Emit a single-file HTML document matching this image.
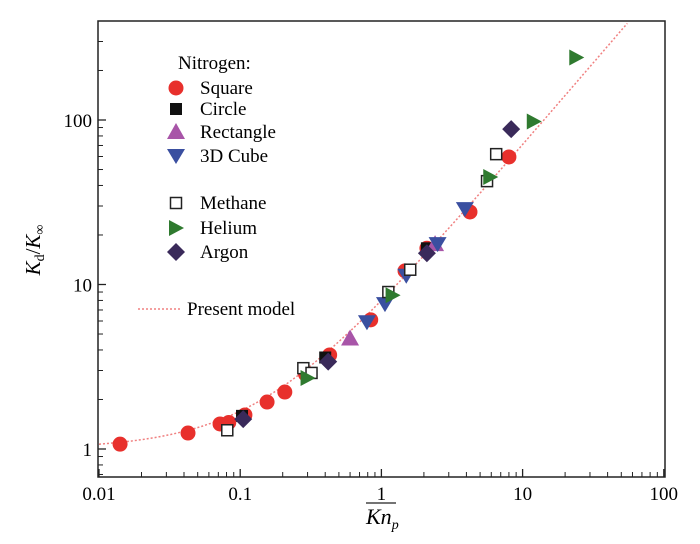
<!DOCTYPE html>
<html><head><meta charset="utf-8"><style>
body{margin:0;background:#fff}
svg{display:block;font-family:"Liberation Serif",serif}
</style></head><body>
<svg id="c" width="700" height="544">
<rect x="98" y="21" width="567" height="456" fill="none" stroke="#222" stroke-width="1.5"/>
<g id="ticks"></g><g id="curve"></g><g id="pts"></g>
<text transform="translate(40,250) rotate(-90)" text-anchor="middle" font-size="21" font-style="italic">K<tspan font-size="14" dy="4" font-style="normal">d</tspan><tspan dy="-4" font-style="normal">/</tspan>K<tspan font-size="14" dy="4" font-style="normal">∞</tspan></text>
<g>
<line x1="366" y1="503" x2="396" y2="503" stroke="#222" stroke-width="1.2"/>
<text x="366" y="524" font-size="22" font-style="italic">Kn<tspan font-size="14" dy="5">p</tspan></text>
</g>
<g id="legend" font-size="19"></g>
</svg>
<script>
const xTicks=[0.01,0.1,1,10,100];
const xTickLabels=["0.01","0.1","1","10","100"];
const yTicks=[1,10,100];
const yTickLabels=["1","10","100"];
const squareX=[0.0141,0.0427,0.072,0.083,0.108,0.155,0.207,0.29,0.43,0.84,1.47,2.1,4.24,8.0];
const squareY=[1.07,1.25,1.42,1.45,1.61,1.93,2.22,2.85,3.73,6.1,12.1,16.6,27.6,59.6];
const circleX=[0.103,0.40,2.1];
const circleY=[1.59,3.6,16.6];
const rectX=[0.60,2.4];
const rectY=[4.7,17.6];
const cubeX=[0.79,1.06,1.5,2.5,3.9];
const cubeY=[5.9,7.6,11.3,17.6,28.7];
const methaneX=[0.081,0.28,0.32,1.12,1.6,5.6,6.5];
const methaneY=[1.30,3.1,2.9,9.0,12.3,42.5,62];
const heliumX=[0.30,1.2,5.9,12,24];
const heliumY=[2.7,8.6,45,98,240];
const argonX=[0.105,0.42,2.1,8.3];
const argonY=[1.52,3.4,15.5,88];
const NS="http://www.w3.org/2000/svg";
const X=v=>99+(Math.log10(v)+2)*141.2;
const Y=v=>449-Math.log10(v)*164.5;
function mk(tag,attrs,parent){const e=document.createElementNS(NS,tag);for(const k in attrs)e.setAttribute(k,attrs[k]);parent.appendChild(e);return e;}
const tk=document.getElementById('ticks');
xTicks.forEach((t,i)=>{
  const l=mk('line',{x1:X(t),x2:X(t),y1:477,y2:469,stroke:'#222','stroke-width':1.3},tk);
  
  
  const tx=mk('text',{x:X(t),y:500,'text-anchor':'middle','font-size':19},tk);tx.textContent=xTickLabels[i];
  
  
  if(i<xTicks.length-1)for(let m=2;m<10;m++){const mx=X(t*m);mk('line',{x1:mx,x2:mx,y1:477,y2:472,stroke:'#222','stroke-width':1},tk);}
});
yTicks.forEach((t,i)=>{
  const l=mk('line',{x1:98,x2:106,y1:Y(t),y2:Y(t),stroke:'#222','stroke-width':1.3},tk);
  
  
  const tx=mk('text',{x:92,y:Y(t)+7,'text-anchor':'end','font-size':19},tk);tx.textContent=yTickLabels[i];
  
  
});
[0.7,0.8,0.9].concat([2,3,4,5,6,7,8,9],[20,30,40,50,60,70,80,90],[200,300]).forEach(v=>{
  const yy=Y(v);if(yy>21&&yy<477)mk('line',{x1:98,x2:103,y1:yy,y2:yy,stroke:'#222','stroke-width':1},tk);
});
// model curve
const cv=document.getElementById('curve');
let d='';for(let i=0;i<=200;i++){const kn=Math.pow(10,-2+i*3.76/200);const k=1+7*kn;const py=Y(k);if(py<21)break;d+=(i?'L':'M')+X(kn).toFixed(1)+','+py.toFixed(1);}
const pth=mk('path',{d:d,fill:'none',stroke:'#f08080','stroke-width':1.5,'stroke-dasharray':'2,2'},cv);


function marker(type,cx,cy,g){
  if(type==='circle')return mk('circle',{cx:cx,cy:cy,r:7.5,fill:'#e8302c'},g);
  if(type==='square')return mk('rect',{x:cx-6,y:cy-6,width:12,height:12,fill:'#111'},g);
  if(type==='tri')return mk('polygon',{points:`${cx},${cy-9} ${cx-9},${cy+7} ${cx+9},${cy+7}`,fill:'#a855a8'},g);
  if(type==='dtri')return mk('polygon',{points:`${cx},${cy+8} ${cx-9},${cy-7} ${cx+9},${cy-7}`,fill:'#3a4fa0'},g);
  if(type==='open')return mk('rect',{x:cx-5.5,y:cy-5.5,width:11,height:11,fill:'#fff',stroke:'#222','stroke-width':1.5},g);
  if(type==='rtri')return mk('polygon',{points:`${cx+8},${cy} ${cx-7},${cy-8} ${cx-7},${cy+8}`,fill:'#2f7a2f'},g);
  if(type==='dia')return mk('polygon',{points:`${cx},${cy-9} ${cx+9},${cy} ${cx},${cy+9} ${cx-9},${cy}`,fill:'#3a2a5a'},g);
}
const series=[['circle',squareX,squareY,'square'],['square',circleX,circleY,'circle'],['tri',rectX,rectY,'rectangle'],['dtri',cubeX,cubeY,'3d-cube'],['open',methaneX,methaneY,'methane'],['rtri',heliumX,heliumY,'helium'],['dia',argonX,argonY,'argon']];
const pg=document.getElementById('pts');
series.forEach(s=>{s[1].forEach((x,i)=>{const m=marker(s[0],X(x),Y(s[2][i]),pg);
  
  });});
// legend
const lg=document.getElementById('legend');
const t0=mk('text',{x:178,y:69},lg);t0.textContent='Nitrogen:';


const le=[['circle','Square',88],['square','Circle',109],['tri','Rectangle',132],['dtri','3D Cube',156],['open','Methane',203],['rtri','Helium',228],['dia','Argon',252]];
le.forEach(e=>{marker(e[0],176,e[2],lg);const t=mk('text',{x:200,y:e[2]+6},lg);t.textContent=e[1];
  
  });
mk('line',{x1:138,x2:182,y1:309,y2:309,stroke:'#f08080','stroke-width':1.5,'stroke-dasharray':'2,2'},lg);
const tm=mk('text',{x:187,y:315},lg);tm.textContent='Present model';


</script>
</body></html>
